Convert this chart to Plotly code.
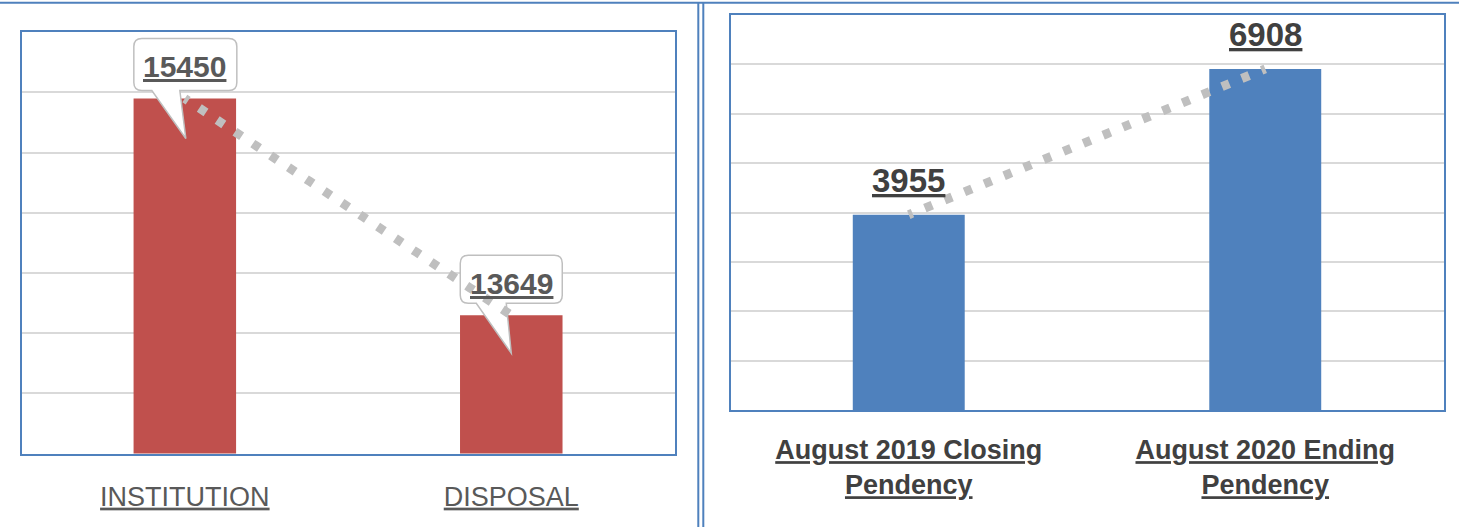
import plotly.graph_objects as go

# ---------------- data ----------------
left_categories = ["INSTITUTION", "DISPOSAL"]
left_values = [15450, 13649]
right_categories = ["August 2019 Closing<br>Pendency", "August 2020 Ending<br>Pendency"]
right_values = [3955, 6908]

FONT = "Liberation Sans, Arial, sans-serif"
RED = "#C0504D"
BLUE = "#4F81BD"
GRID = "#D9D9D9"
TREND = "#BFBFBF"

W, H = 1459, 527


def px_x(p):
    return p / W


def px_y(p):
    return 1 - p / H


fig = go.Figure()

fig.add_trace(go.Bar(x=left_categories, y=left_values, marker=dict(color=RED, line=dict(width=0)),
                     xaxis="x", yaxis="y", hoverinfo="skip"))
fig.add_trace(go.Bar(x=right_categories, y=right_values, marker=dict(color=BLUE, line=dict(width=0)),
                     xaxis="x2", yaxis="y2", hoverinfo="skip"))


def callout_path(L, R, T, B, r, tail_a, tail_b, tip):
    return (f"M {L+r},{T} L {R-r},{T} Q {R},{T} {R},{T-r} L {R},{B+r} Q {R},{B} {R-r},{B} "
            f"L {tail_a},{B} L {tip[0]},{tip[1]} L {tail_b},{B} "
            f"L {L+r},{B} Q {L},{B} {L},{B+r} L {L},{T-r} Q {L},{T} {L+r},{T} Z")


shapes = []
# callouts for left chart
callout_geo = [
    dict(L=-51, R=52, T=60, B=8, r=8, tail_a=-5, tail_b=-33, tip=(1, -40)),
    dict(L=-51, R=51, T=60, B=12, r=8, tail_a=-5, tail_b=-35, tip=(0, -38)),
]
for cat, val, g in zip(left_categories, left_values, callout_geo):
    shapes.append(dict(type="path", xref="x", yref="y", xsizemode="pixel", ysizemode="pixel",
                       xanchor=cat, yanchor=val,
                       path=callout_path(g["L"], g["R"], g["T"], g["B"], g["r"], g["tail_a"], g["tail_b"], g["tip"]),
                       fillcolor="white", line=dict(color="#BFBFBF", width=1.5), layer="above"))

# dotted trend lines (dots centred at both ends)
DOTS = "4px,13.4px,4px,0px"
shapes.append(dict(type="line", xref="x", yref="y", x0=left_categories[0], y0=left_values[0],
                   x1=left_categories[1], y1=left_values[1],
                   line=dict(color=TREND, width=9, dash=DOTS), layer="above"))
shapes.append(dict(type="line", xref="x2", yref="y2", x0=right_categories[0], y0=right_values[0],
                   x1=right_categories[1], y1=right_values[1],
                   line=dict(color=TREND, width=9, dash=DOTS), layer="above"))

# outer frame lines
shapes.append(dict(type="line", xref="paper", yref="paper", x0=0, x1=1, y0=px_y(2.7), y1=px_y(2.7),
                   line=dict(color=BLUE, width=2), layer="above"))
for xv in (698.3, 703.3):
    shapes.append(dict(type="line", xref="paper", yref="paper", x0=px_x(xv), x1=px_x(xv), y0=0, y1=px_y(2.7),
                       line=dict(color=BLUE, width=2), layer="above"))

annotations = []
for cat, val in zip(left_categories, left_values):
    annotations.append(dict(x=cat, y=val, xref="x", yref="y", text=f"<b><u>{val}</u></b>",
                            showarrow=False, yshift=32, yanchor="middle",
                            font=dict(family=FONT, size=30, color="#595959")))
for cat, val in zip(right_categories, right_values):
    annotations.append(dict(x=cat, y=val, xref="x2", yref="y2", text=f"<b><u>{val}</u></b>",
                            showarrow=False, yshift=14, yanchor="bottom",
                            font=dict(family=FONT, size=33, color="#404040")))

axis_common = dict(showline=True, mirror=True, linecolor=BLUE, linewidth=1.5, automargin=False)

fig.update_layout(
    width=W, height=H,
    margin=dict(l=0, r=0, t=0, b=0),
    paper_bgcolor="white", plot_bgcolor="white",
    showlegend=False,
    bargap=0.686,
    xaxis=dict(domain=[px_x(21.6), px_x(674.5)], anchor="y", showgrid=False, ticks="",
               tickvals=left_categories,
               ticktext=[f"<u>{c}</u>" for c in left_categories],
               tickfont=dict(family=FONT, size=27, color="#595959"),
               ticklabelstandoff=18, **axis_common),
    yaxis=dict(domain=[px_y(453.5), px_y(32.3)], anchor="x", range=[12500, 16000], dtick=500,
               showgrid=True, gridcolor=GRID, gridwidth=1.5, showticklabels=False, ticks="",
               zeroline=False, **axis_common),
    xaxis2=dict(domain=[px_x(730.5), px_x(1443.5)], anchor="y2", showgrid=False, ticks="",
                tickvals=right_categories,
                ticktext=["<br>".join(f"<u>{part}</u>" for part in c.split("<br>")) for c in right_categories],
                tickfont=dict(family=FONT, size=27, color="#404040", weight="bold"),
                ticklabelstandoff=15, **axis_common),
    yaxis2=dict(domain=[px_y(410), px_y(15)], anchor="x2", range=[0, 8000], dtick=1000,
                showgrid=True, gridcolor=GRID, gridwidth=1.5, showticklabels=False, ticks="",
                zeroline=False, **axis_common),
    shapes=shapes,
    annotations=annotations,
)

fig.write_html("out.html", config={"displayModeBar": False},
               post_script="document.body.style.margin='0';document.body.style.overflow='hidden';")
